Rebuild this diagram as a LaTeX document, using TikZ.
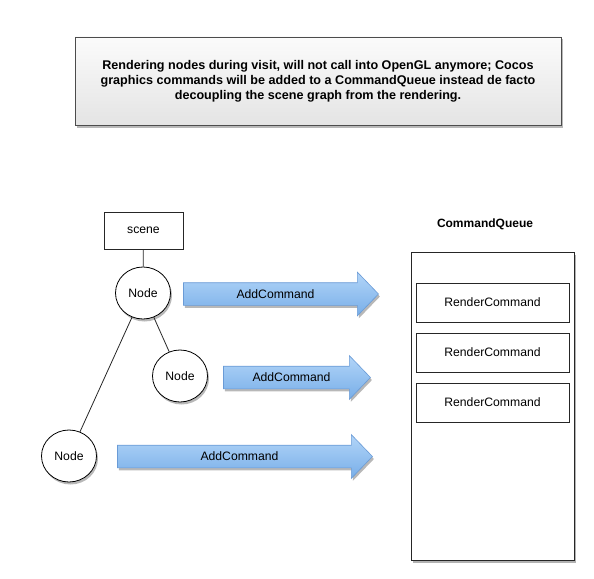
\documentclass[tikz,border=0pt]{standalone}
\usepackage{fontspec}
\setmainfont{Liberation Sans}
\usetikzlibrary{shapes.geometric,shapes.arrows,shadows}
\definecolor{arrowtop}{HTML}{B2D5F8}
\definecolor{arrowbot}{HTML}{78AEE8}
\definecolor{arrowline}{HTML}{6A9BD6}
\definecolor{boxtop}{HTML}{FBFBFB}
\definecolor{boxbot}{HTML}{E4E4E4}
\begin{document}
\begin{tikzpicture}[x=1pt,y=-1pt,
  shad/.style={drop shadow={shadow xshift=1.5pt,shadow yshift=-2.5pt,fill=black,opacity=0.28}},
  txt/.style={font=\fontsize{12.2}{14}\selectfont},
  plainbox/.style={draw=black!85,line width=0.8pt,fill=white,rectangle,inner sep=0pt,txt},
  treenode/.style={ellipse,draw=black,line width=0.8pt,fill=white,minimum width=55pt,minimum height=52pt,inner sep=0pt,shad,txt},
  addarrow/.style={single arrow,single arrow head extend=10.5pt,single arrow tip angle=92,
    draw=arrowline,line width=0.6pt,top color=arrowtop,bottom color=arrowbot,
    text height=8.6pt,text depth=0pt,inner ysep=6.7pt,inner xsep=0pt,shad,txt},
  edge/.style={draw=black!85,line width=0.8pt}]
\useasboundingbox (0,0) rectangle (594,578);

% top note
\node[draw=black!70,line width=0.8pt,top color=boxtop,bottom color=boxbot,rectangle,
  minimum width=486pt,minimum height=88pt,inner sep=0pt,shad,align=center,
  font=\fontsize{12.6}{14.8}\selectfont\bfseries] (note) at (318,81)
  {Rendering nodes during visit, will not call into OpenGL anymore; Cocos\\
   graphics commands will be added to a CommandQueue instead de facto\\
   decoupling the scene graph from the rendering.};

% tree
\node[plainbox,minimum width=79pt,minimum height=37pt] (scene) at (143.5,230.5) {scene};
\node[treenode] (n1) at (143,293) {Node};
\node[treenode] (n2) at (180,376) {Node};
\node[treenode] (n3) at (69,456) {Node};
\draw[edge] (scene) -- (n1);
\draw[edge] (n1) -- (n2);
\draw[edge] (n1) -- (n3);

% arrows
\node[addarrow,minimum height=195pt] (a1) at (275.5,294) {AddCommand};
\node[addarrow,minimum height=147pt] (a2) at (291.5,377.5) {AddCommand};
\node[addarrow,minimum height=255pt] (a3) at (239.5,456.5) {AddCommand};

% command queue
\node[font=\fontsize{12}{14}\selectfont\bfseries] (cqlabel) at (485,224) {CommandQueue};
\node[plainbox,minimum width=163pt,minimum height=308pt,
  drop shadow={shadow xshift=2pt,shadow yshift=-3pt,fill=black,opacity=0.3}] (cq) at (492.5,406) {};
\node[plainbox,minimum width=153pt,minimum height=39pt] (rc1) at (492.5,302.5) {RenderCommand};
\node[plainbox,minimum width=153pt,minimum height=39pt] (rc2) at (492.5,352.5) {RenderCommand};
\node[plainbox,minimum width=153pt,minimum height=39pt] (rc3) at (492.5,402.5) {RenderCommand};
\end{tikzpicture}
\end{document}
